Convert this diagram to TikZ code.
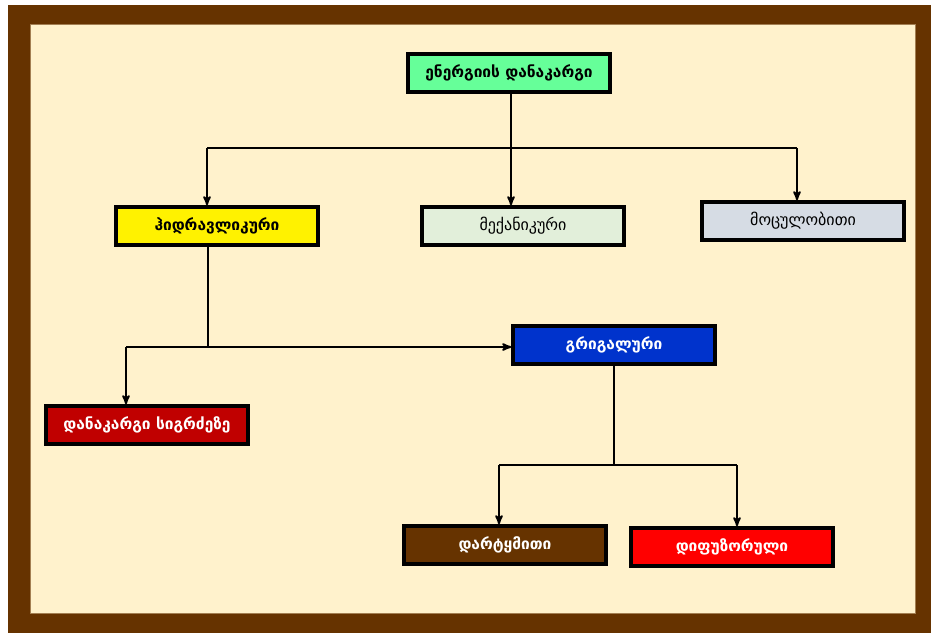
\documentclass[tikz,border=0pt]{standalone}
\usepackage{fontspec}
\setmainfont{DejaVu Sans}
\usepackage{tikz}
\usetikzlibrary{arrows}

\definecolor{framebrown}{HTML}{663300}
\definecolor{cream}{HTML}{FFF2CC}
\definecolor{topgreen}{HTML}{66FF99}
\definecolor{mechgreen}{HTML}{E2EFDA}
\definecolor{volgray}{HTML}{D6DCE4}
\definecolor{vortblue}{HTML}{0033CC}
\definecolor{lenred}{HTML}{C00000}

\tikzset{
    lossbox/.style={draw=black,line width=3.5pt,minimum width=202pt,
        minimum height=38pt,inner sep=0pt,font=\fontsize{16}{18}\selectfont},
    boldtext/.style={font=\fontsize{15.5}{18}\selectfont\bfseries},
    whitetext/.style={boldtext,text=white}
}

\begin{document}
\begin{tikzpicture}[x=1pt,y=-1pt,->,>=stealth',line width=2pt]
        \useasboundingbox (0,0) rectangle (931,633);

        \fill[framebrown] (8,5) rectangle (931,633);
        \fill[cream,draw=framebrown!60!cream,line width=1pt] (30,24) rectangle (915,613);

        \node[lossbox,fill=topgreen,boldtext] (loss) at (509,73) {ენერგიის დანაკარგი};
        \node[lossbox,fill=yellow,boldtext] (hydr) at (217,226) {ჰიდრავლიკური};
        \node[lossbox,fill=mechgreen] (mech) at (523,226) {მექანიკური};
        \node[lossbox,fill=volgray] (volu) at (803,221) {მოცულობითი};
        \node[lossbox,fill=vortblue,whitetext] (vort) at (614,345) {გრიგალური};
        \node[lossbox,fill=lenred,whitetext] (leng) at (147,425) {დანაკარგი სიგრძეზე};
        \node[lossbox,fill=framebrown,whitetext] (impa) at (505,545) {დარტყმითი};
        \node[lossbox,fill=red,whitetext] (diff) at (732,547) {დიფუზორული};

        \coordinate (b1) at (207,148);
        \coordinate (b2) at (797,148);
        \coordinate (b3) at (126,347);
        \coordinate (b4) at (499,465);
        \coordinate (b5) at (737,465);

        % first level
        \draw[-] (b1) -- (b2);
        \draw (loss.south -| 511,0) -- (mech.north -| 511,0);
        \draw (b1) -- (b1 |- hydr.north);
        \draw (b2) -- (b2 |- volu.north);

        % hydraulic losses
        \draw[-] (hydr.south -| 208,0) -- (208,347);
        \draw (b3) -- (vort.west |- b3);
        \draw (b3) -- (b3 |- leng.north);

        % vortex losses
        \draw[-] (vort.south) -- (vort.south |- b4);
        \draw[-] (b4) -- (b5);
        \draw (b4) -- (b4 |- impa.north);
        \draw (b5) -- (b5 |- diff.north);
    \end{tikzpicture}
\end{document}
